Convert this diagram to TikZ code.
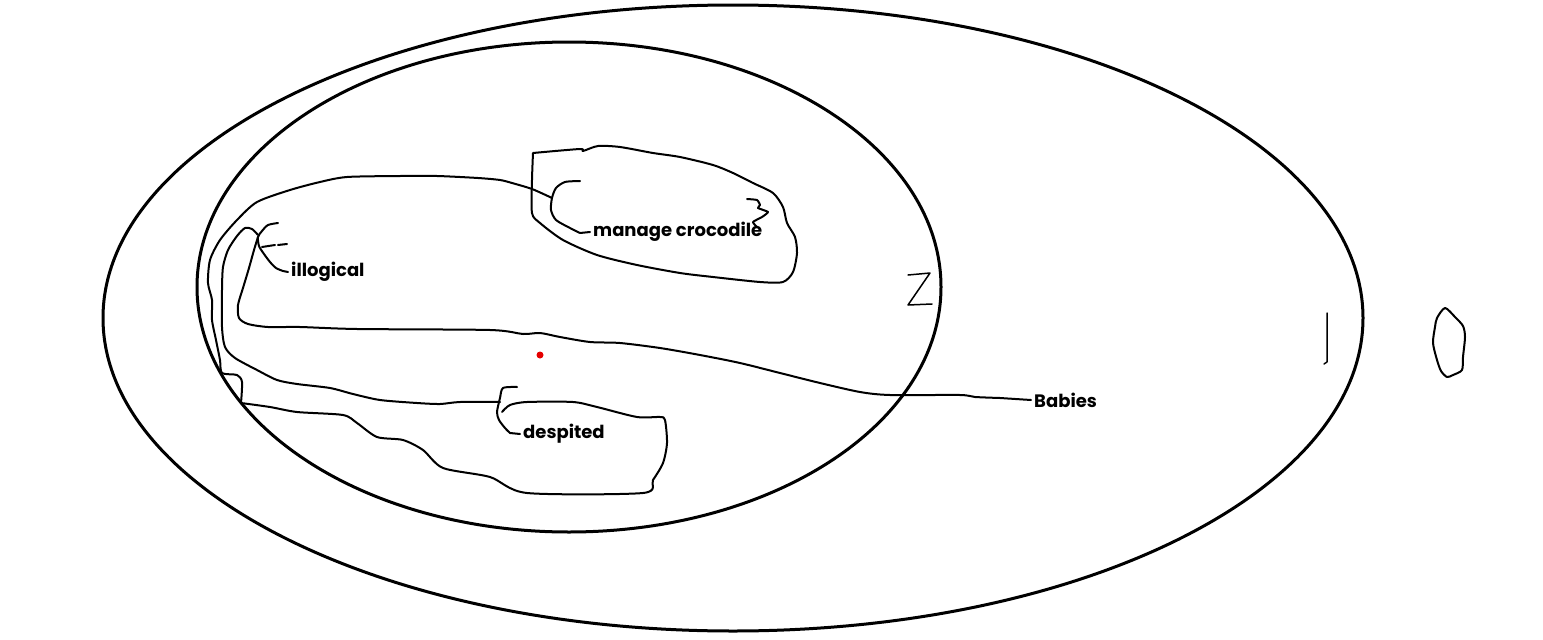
\documentclass[tikz,border=0pt]{standalone}
\usepackage{fontspec}
\setmainfont{Poppins}

\begin{document}
\begin{tikzpicture}[x=1pt, y=-1pt,
    ring/.style={line width=3pt},
    blob/.style={line width=2pt, line join=round, line cap=round},
    tag/.style={font=\bfseries\fontsize{18}{18}\selectfont, inner sep=3pt, anchor=west}]
\useasboundingbox (0,0) rectangle (1543,640);

% the two sets
\draw [ring] (733,318) ellipse [x radius=630, y radius=313];
\draw [ring] (569,287) ellipse [x radius=372, y radius=245];
\fill [red!90!black] (540,355) circle [radius=3.5];

% labels
\node [tag] (croc) at (590,232) {manage crocodile};
\node [tag] (illog) at (288,272) {illogical};
\node [tag] (desp) at (520,434) {despited};
\node [tag] (babies) at (1031,400) {Babies};

% big outline round to despited
\draw [blob] plot [smooth, tension=0.45] coordinates {(552,198) (532,189) (512,183) (500,180) (478,178) (437,176) (400,176) (347,177) (320,182) (290,190) (257,202) (237,220) (220,240) (210,260) (208,283) (212,300) (212,320) (216,340) (220,360) (222,373) (237,375) (242,382) (241,403)};
\draw [blob] plot [smooth, tension=0.45] coordinates {(241,403) (270,407) (297,412) (343,415) (357,423) (377,437) (403,440) (423,450) (443,468) (490,477) (527,493) (643,493) (653,480) (663,463) (667,443) (665,420) (660,417) (637,417) (597,407) (573,402) (527,402) (510,405) (502,412)};

% inner line
\draw [blob] plot [smooth, tension=0.45] coordinates {(258,235) (252,229) (245,228) (237,236) (228,250) (223,267) (222,290) (222,327) (225,347) (235,358) (257,370) (277,380) (297,384) (330,388) (353,394) (380,400) (417,403) (440,404) (460,402) (500,402)};

% illogical bottom, out to Babies
\draw [blob] plot [smooth, tension=0.45] coordinates {(258,237) (254,250) (249,268) (243,288) (238,305) (239,318) (248,324) (268,327) (300,327) (357,329) (490,330) (523,334) (540,333) (560,337) (590,342) (620,343) (660,348) (700,355) (740,363) (780,373) (820,383) (860,392) (890,395) (960,395) (975,397) (1000,398)} -- (babies.west);

% crocodile set
\draw [blob] plot [smooth, tension=0.45] coordinates {(533,153) (580,149) (583,151) (598,146) (620,147) (653,153) (680,157) (713,165) (733,173) (753,183) (773,193) (783,207) (787,223) (795,237) (797,253) (793,272) (783,282) (760,282) (713,277) (680,273) (637,265) (597,255) (563,240) (540,223) (532,213) (532,180) (533,153)};

% leaders
\draw [blob] plot [smooth, tension=0.45] coordinates {(580,181) (565,182) (556,188) (552,198) (551,210) (556,220) (570,228) (580,233)} -- (croc.west);
\draw [blob] plot [smooth, tension=0.3] coordinates {(747,199) (757,200) (760,205) (758,208) (768,212) (762,217) (753,222) (757,227)};
\draw [blob] plot [smooth, tension=0.45] coordinates {(278,223) (268,225) (262,231) (258,237) (259,246) (264,254) (270,262) (276,268) (283,271)} -- (illog.west);
\draw [blob] (262,247) -- (275,245);
\draw [blob] (278,245) -- (287,244);
\draw [blob] plot [smooth, tension=0.45] coordinates {(517,387) (503,388) (500,398) (497,412) (499,420) (505,428) (510,433)} -- (desp.west);

% numbers
\draw [blob, line width=1.5pt] (908,275) -- (930,273) -- (908,305) -- (932,304);
\draw [blob, line width=1.5pt] (1327,313) -- (1327,362) -- (1324,364);
\draw [blob] plot [smooth cycle, tension=0.45] coordinates {(1437,318) (1445,308) (1455,317) (1463,326) (1465,337) (1463,357) (1462,370) (1453,375) (1447,377) (1441,371) (1437,360) (1433,343) (1435,327)};
\end{tikzpicture}
\end{document}
